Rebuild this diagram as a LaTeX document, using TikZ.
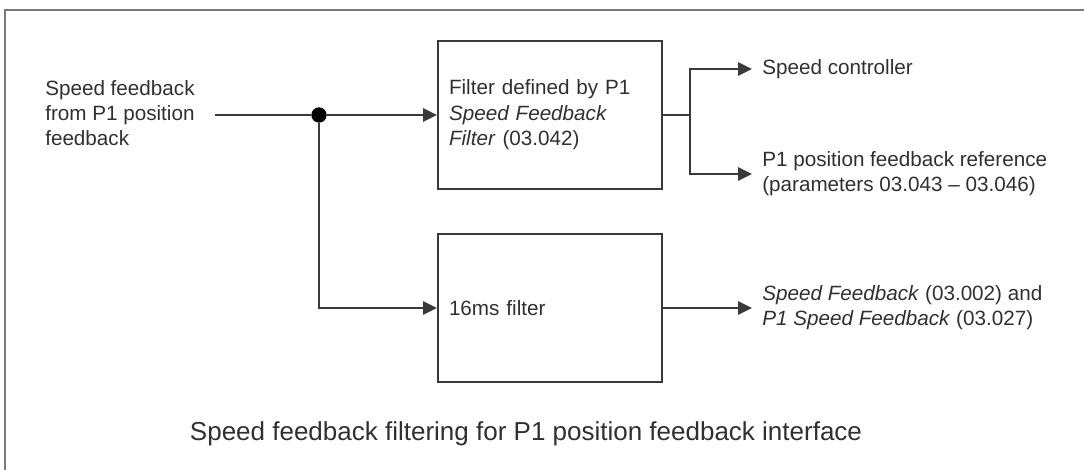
\documentclass[tikz,border=0pt]{standalone}
\usepackage{fontspec}
\setmainfont{Liberation Sans}
\usepackage{xcolor}
\usetikzlibrary{arrows.meta, positioning}
\definecolor{wirec}{HTML}{3A3A3A}
\definecolor{framec}{HTML}{7A7A7A}
\definecolor{txtc}{HTML}{303030}

\begin{document}
\begin{tikzpicture}[x=0.75pt, y=-0.75pt,
	wire/.style={draw=wirec, line width=1.5pt},
	sig/.style={wire, -{Triangle[length=10.5pt, width=10pt]}},
	block/.style={shape=rectangle, draw=wirec, line width=1.5pt, minimum width=168pt, minimum height=111pt, inner xsep=8.25pt, text width=151.5pt, align=left, text=txtc, font=\fontsize{15.5}{19.2}\selectfont},
	lbl/.style={anchor=west, align=left, inner xsep=7.5pt, text=txtc, font=\fontsize{15.5}{18.6}\selectfont}]
	\useasboundingbox (0, 0) rectangle (1084, 470);
	% Frame:
	\draw[framec, line width=2.2pt] (5, 470) |- (1084, 10);
	% Paths, nodes and wires:
	\node[lbl, inner xsep=0pt] (lIn) at (45, 113){Speed feedback\\from P1 position\\feedback};
	\coordinate (inS) at (215, 115);
	\node[circle, fill=black, inner sep=0pt, minimum size=11.5pt] (J) at (319, 115){};
	\node[block] (f1) at (550, 115){Filter defined by P1\\\textit{Speed Feedback}\\\textit{Filter} (03.042)};
	\node[block] (f2) at (550, 308){16ms filter};
	\coordinate (br) at (690, 115);
	\node[lbl] (oSpd) at (752, 69){Speed controller};
	\node[lbl] (oRef) at (752, 174){P1 position feedback reference\\(parameters 03.043 -- 03.046)};
	\node[lbl] (oFb) at (752, 308){\textit{Speed Feedback} (03.002) and\\\textit{P1 Speed Feedback} (03.027)};
	\draw[wire] (inS) -- (J);
	\draw[sig] (J) -- (f1.west);
	\draw[sig] (J) |- (f2.west);
	\draw[wire, line width=2.2pt] (f1.east) -- (br);
	\draw[sig] (br) |- (oSpd.west);
	\draw[sig] (br) |- (oRef.west);
	\draw[sig] (f2.east) -- (oFb.west);
	\node[text=txtc, font=\fontsize{19.5}{23}\selectfont] (title) at (526, 434){Speed feedback filtering for P1 position feedback interface};
\end{tikzpicture}
\end{document}
